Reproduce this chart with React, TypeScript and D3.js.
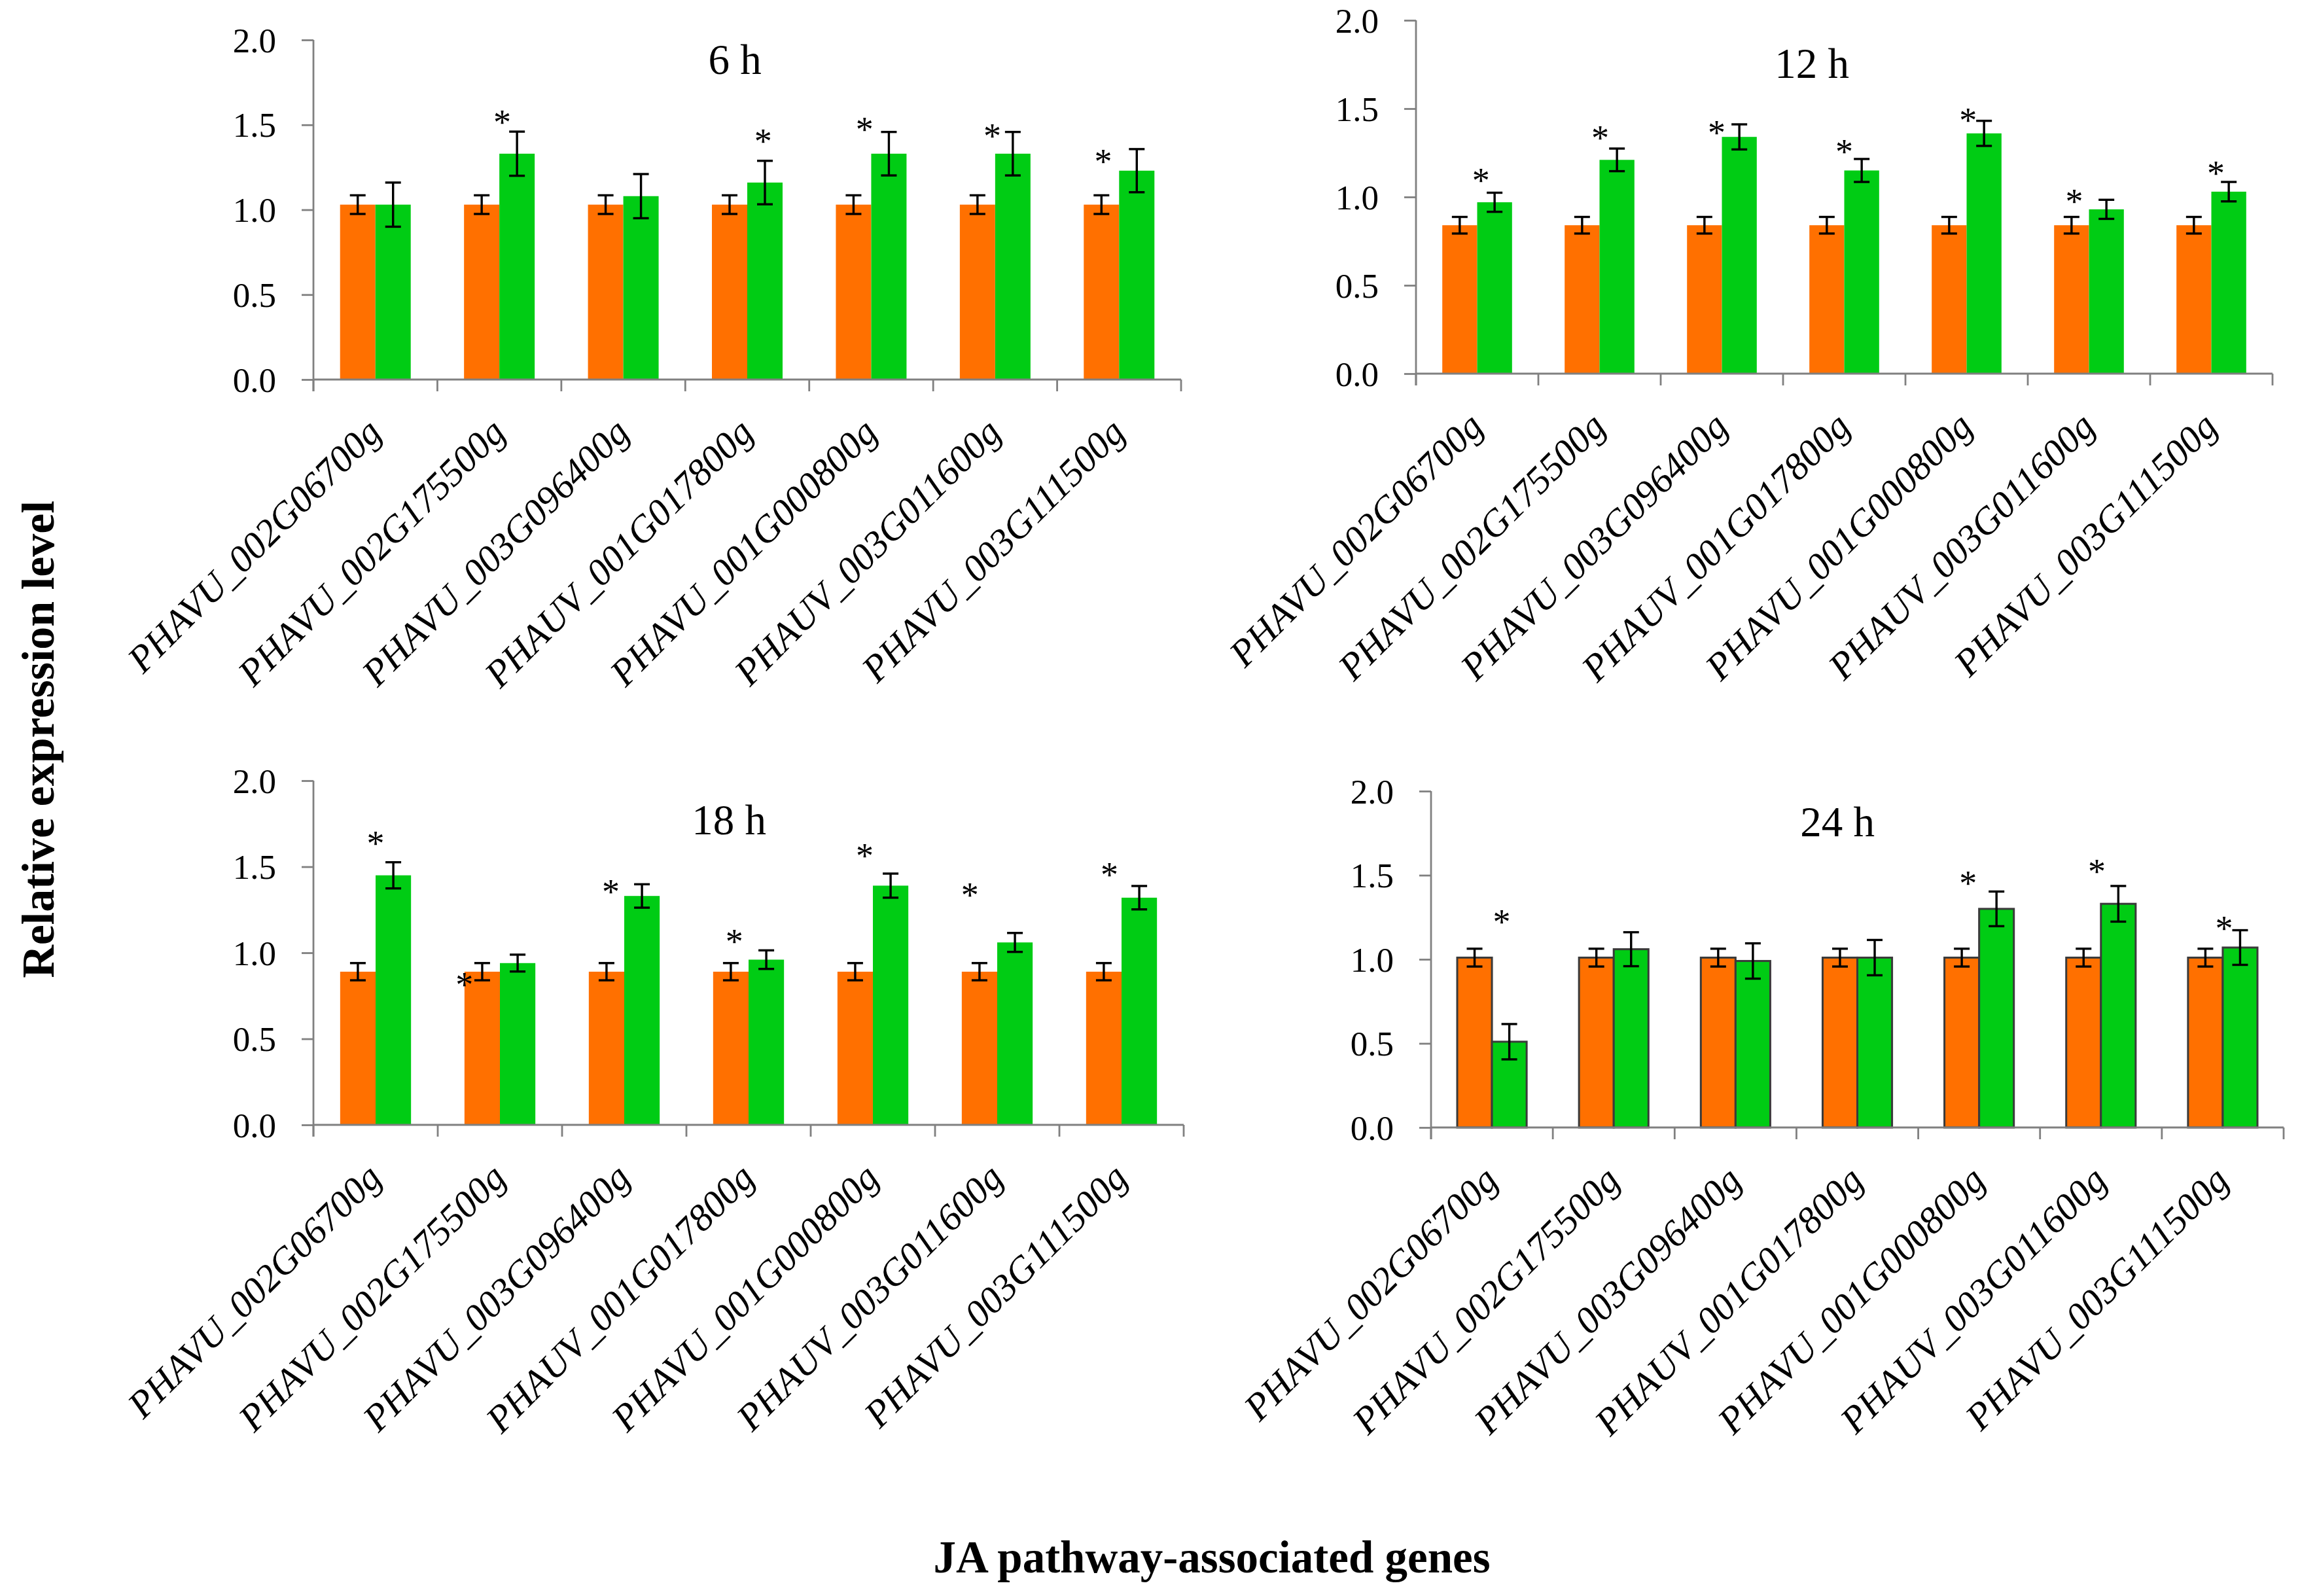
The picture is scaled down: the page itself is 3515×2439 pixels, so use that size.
import React, { useEffect, useRef } from 'react';
import * as d3 from 'd3';

// genes on the x axis (same order in every panel)
const genes = [
  'PHAVU_002G06700g',
  'PHAVU_002G175500g',
  'PHAVU_003G096400g',
  'PHAUV_001G017800g',
  'PHAVU_001G000800g',
  'PHAUV_003G011600g',
  'PHAVU_003G111500g',
];

const timePoints = ['6 h', '12 h', '18 h', '24 h'];
const yTicks = [0, 0.5, 1.0, 1.5, 2.0];

// orange = control, green = treated
const controlValues = [
  [1.03, 1.03, 1.03, 1.03, 1.03, 1.03, 1.03],
  [0.84, 0.84, 0.84, 0.84, 0.84, 0.84, 0.84],
  [0.89, 0.89, 0.89, 0.89, 0.89, 0.89, 0.89],
  [1.01, 1.01, 1.01, 1.01, 1.01, 1.01, 1.01],
];
const controlErrors = [
  [0.055, 0.055, 0.055, 0.055, 0.055, 0.055, 0.055],
  [0.047, 0.047, 0.047, 0.047, 0.047, 0.047, 0.047],
  [0.05, 0.05, 0.05, 0.05, 0.05, 0.05, 0.05],
  [0.053, 0.053, 0.053, 0.053, 0.053, 0.053, 0.053],
];
const treatedValues = [
  [1.03, 1.33, 1.08, 1.16, 1.33, 1.33, 1.23],
  [0.97, 1.21, 1.34, 1.15, 1.36, 0.93, 1.03],
  [1.45, 0.94, 1.33, 0.96, 1.39, 1.06, 1.32],
  [0.51, 1.06, 0.99, 1.01, 1.30, 1.33, 1.07],
];
const treatedErrors = [
  [0.13, 0.13, 0.13, 0.128, 0.128, 0.128, 0.127],
  [0.054, 0.064, 0.071, 0.065, 0.071, 0.054, 0.055],
  [0.076, 0.049, 0.068, 0.054, 0.07, 0.055, 0.068],
  [0.105, 0.101, 0.105, 0.105, 0.103, 0.106, 0.103],
];

// significance marks: [gene index, value level of the mark]
const stars = [
  [[1, 1.54], [3, 1.43], [4, 1.5], [5, 1.46], [6, 1.31]],
  [[0, 1.12], [1, 1.36], [2, 1.39], [3, 1.28], [4, 1.46], [5, 1.0], [6, 1.16]],
  [[0, 1.66], [1, 0.84], [2, 1.38], [3, 1.09], [4, 1.59], [5, 1.36], [6, 1.48]],
  [[0, 1.25], [4, 1.48], [5, 1.55], [6, 1.21]],
];
// horizontal nudge of each mark, in bar widths from the pair centre
const starNudge = [
  [0.08, 0.45, -0.19, -0.08, -0.45],
  [0.11, 0.02, -0.15, 0, 0.04, -0.42, 0.13],
  [0, -1.0, -0.38, -0.4, -0.23, -0.77, -0.34],
  [0.28, -0.32, -0.12, 0.04],
];

// panel frames
const panels = [
  { x0: 479, x1: 1805, y0: 580, yTop: 61, titleX: 1123, titleY: 113, outline: false },
  { x0: 2164, x1: 3473, y0: 571, yTop: 31, titleX: 2769, titleY: 119, outline: false },
  { x0: 479, x1: 1809, y0: 1719, yTop: 1193, titleX: 1114, titleY: 1275, outline: false },
  { x0: 2187, x1: 3490, y0: 1723, yTop: 1209, titleX: 2808, titleY: 1278, outline: true },
];

const W = 3515;
const H = 2439;
const FONT = '"Liberation Serif", "Times New Roman", serif';
const ORANGE = '#ff7000';
const GREEN = '#00cc14';
const AXIS = '#808080';

const App: React.FC = () => {
  const ref = useRef<SVGSVGElement>(null);

  useEffect(() => {
    if (!ref.current) return;
    const svg = d3.select(ref.current);
    svg.selectAll('*').remove();

    svg.append('rect').attr('width', W).attr('height', H).attr('fill', '#fff');

    panels.forEach((p, pi) => {
      const g = svg.append('g');

      const x = d3.scaleBand().domain(genes).range([p.x0, p.x1]);
      const sub = d3.scaleBand()
        .domain(['control', 'treated'])
        .range([0, x.bandwidth()])
        .paddingInner(0)
        .paddingOuter(0.754);
      const y = d3.scaleLinear().domain([0, 2]).range([p.y0, p.yTop]);
      const bw = sub.bandwidth();

      // bars
      const rows = genes.map((gene, i) => ({
        gene,
        c: controlValues[pi][i],
        ce: controlErrors[pi][i],
        t: treatedValues[pi][i],
        te: treatedErrors[pi][i],
      }));

      const series = [
        { key: 'control', color: ORANGE, v: (d: any) => d.c, e: (d: any) => d.ce },
        { key: 'treated', color: GREEN, v: (d: any) => d.t, e: (d: any) => d.te },
      ];

      series.forEach(s => {
        g.selectAll(null)
          .data(rows)
          .enter().append('rect')
          .attr('x', d => (x(d.gene) || 0) + (sub(s.key) || 0))
          .attr('width', bw)
          .attr('y', d => y(s.v(d)))
          .attr('height', d => y(0) - y(s.v(d)))
          .attr('fill', s.color)
          .attr('stroke', p.outline ? '#3a3a3a' : 'none')
          .attr('stroke-width', p.outline ? 3 : 0);
      });

      // error bars
      series.forEach(s => {
        const eb = g.selectAll(null)
          .data(rows)
          .enter().append('g')
          .attr('transform', d => `translate(${(x(d.gene) || 0) + (sub(s.key) || 0) + bw / 2},0)`)
          .attr('stroke', '#000')
          .attr('stroke-width', 3.4);
        eb.append('line')
          .attr('y1', d => y(s.v(d) - s.e(d)))
          .attr('y2', d => y(s.v(d) + s.e(d)));
        eb.append('line')
          .attr('x1', -12).attr('x2', 12)
          .attr('y1', d => y(s.v(d) + s.e(d)))
          .attr('y2', d => y(s.v(d) + s.e(d)));
        eb.append('line')
          .attr('x1', -12).attr('x2', 12)
          .attr('y1', d => y(s.v(d) - s.e(d)))
          .attr('y2', d => y(s.v(d) - s.e(d)));
      });

      // y axis
      const ya = g.append('g').attr('transform', `translate(${p.x0},0)`)
        .call(d3.axisLeft(y).tickValues(yTicks).tickSize(18).tickPadding(39).tickFormat(d3.format('.1f')));
      ya.select('.domain').attr('stroke', AXIS).attr('stroke-width', 2.8)
        .attr('d', `M0,${y(2)}V${y(0) + 18}`);
      ya.selectAll('.tick line').attr('stroke', AXIS).attr('stroke-width', 2.8);
      ya.selectAll('.tick text')
        .attr('fill', '#000')
        .attr('dy', null)
        .attr('y', 18)
        .style('font-family', FONT)
        .style('font-size', '53px');

      // x axis: ticks at band edges
      const xa = g.append('g');
      xa.append('line')
        .attr('x1', p.x0).attr('x2', p.x1)
        .attr('y1', p.y0).attr('y2', p.y0)
        .attr('stroke', AXIS).attr('stroke-width', 2.8);
      const edges = genes.map(gn => x(gn) || 0).concat([p.x1]);
      xa.selectAll(null)
        .data(edges)
        .enter().append('line')
        .attr('x1', d => d).attr('x2', d => d)
        .attr('y1', p.y0).attr('y2', p.y0 + 18)
        .attr('stroke', AXIS).attr('stroke-width', 2.8);

      // gene labels
      g.selectAll(null)
        .data(genes)
        .enter().append('text')
        .attr('transform', d => `translate(${(x(d) || 0) + x.bandwidth() / 2 + 12},${p.y0 + 84}) rotate(-45)`)
        .attr('text-anchor', 'end')
        .style('font-family', FONT)
        .style('font-style', 'italic')
        .style('font-size', '58px')
        .text(d => d);

      // significance stars
      g.selectAll(null)
        .data(stars[pi].map((s, k) => ({ gi: s[0], lv: s[1], dx: starNudge[pi][k] })))
        .enter().append('text')
        .attr('x', d => (x(genes[d.gi]) || 0) + x.bandwidth() / 2 + d.dx * bw)
        .attr('y', d => y(d.lv) + 25)
        .attr('text-anchor', 'middle')
        .style('font-family', FONT)
        .style('font-size', '54px')
        .text('*');

      // panel title
      g.append('text')
        .attr('x', p.titleX)
        .attr('y', p.titleY)
        .attr('text-anchor', 'middle')
        .style('font-family', FONT)
        .style('font-size', '65px')
        .text(timePoints[pi]);
    });

    // shared axis titles
    svg.append('text')
      .attr('transform', 'translate(82,1130) rotate(-90)')
      .attr('text-anchor', 'middle')
      .style('font-family', FONT)
      .style('font-weight', 'bold')
      .style('font-size', '70px')
      .text('Relative expression level');

    svg.append('text')
      .attr('x', 1852)
      .attr('y', 2403)
      .attr('text-anchor', 'middle')
      .style('font-family', FONT)
      .style('font-weight', 'bold')
      .style('font-size', '69px')
      .text('JA pathway-associated genes');
  }, []);

  return (
    <div style={{ position: 'absolute', left: 0, top: 0 }}>
      <svg ref={ref} width={W} height={H} viewBox={`0 0 ${W} ${H}`} style={{ display: 'block' }} />
    </div>
  );
};

export default App;
